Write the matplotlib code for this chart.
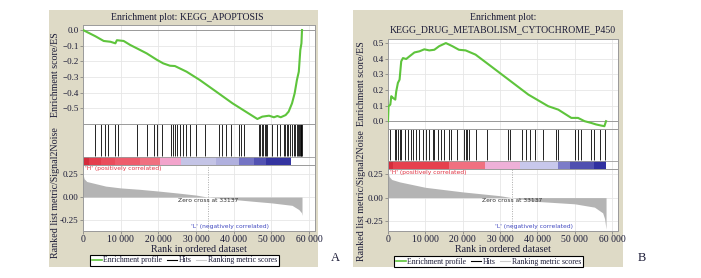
import numpy as np
import matplotlib
matplotlib.use("Agg")
import matplotlib.pyplot as plt
from matplotlib.patches import Rectangle
from matplotlib.lines import Line2D

# ---- data ----
# panel A: KEGG_APOPTOSIS
a_es_x = [0, 3300, 5500, 7300, 8600, 9000, 10800, 12500, 14300, 16900, 19600, 21300,
          23100, 24400, 27500, 31000, 35400, 39700, 43200, 46300, 47600, 49400, 50700,
          51600, 52500, 53800, 54600, 55500, 56200, 56800, 57300, 57700, 58000, 58150]
a_es_y = [0.0, -0.04, -0.07, -0.075, -0.085, -0.065, -0.07, -0.095, -0.117, -0.149, -0.19,
          -0.213, -0.228, -0.23, -0.266, -0.319, -0.394, -0.468, -0.521, -0.568, -0.553,
          -0.547, -0.557, -0.549, -0.557, -0.543, -0.521, -0.468, -0.404, -0.319, -0.266,
          -0.128, -0.085, 0.0]
a_hits = [3300, 4650, 5900, 6700, 8600, 9200, 14300, 16900, 18900, 19600, 21100, 23300,
          24000, 24500, 24900, 25700, 26600, 27450, 28300, 30100, 32300, 36200, 37000,
          38000, 39300, 41500, 41900, 42800, 46700, 47000, 47400, 47800, 48200, 48500,
          48800, 50200, 51500, 52400, 53300, 53700, 54100, 54500, 54900, 55400, 55900,
          56300, 56700, 57000, 57300, 57600, 57800, 58000, 58100]
a_metric_x = [0, 300, 1000, 3000, 6000, 10000, 15000, 20000, 25000, 30000, 33137,
              40000, 45000, 50000, 55500, 57300, 58000, 58150]
a_metric_y = [0.25, 0.2, 0.17, 0.15, 0.12, 0.1, 0.085, 0.066, 0.045, 0.022, 0.0,
              -0.026, -0.045, -0.063, -0.09, -0.136, -0.17, -0.2]
a_bar_edges = [0, 1600, 4650, 8600, 15200, 20400, 26100, 35400, 41500, 45400, 48500, 55100, 58150]
a_bar_colors = ["#d42c3c", "#e43c4c", "#ea4c5c", "#ee5c6c", "#f07080", "#f2a4cc",
                "#c4c4e6", "#b0b0de", "#7474c4", "#5252b2", "#3434a0"]

# panel B: KEGG_DRUG_METABOLISM_CYTOCHROME_P450
b_es_x = [0, 150, 620, 885, 1330, 1950, 2200, 2650, 3100, 3540, 4000, 4870, 5750, 7080,
          8400, 9730, 11060, 12400, 13700, 15500, 17250, 19000, 20800, 23450, 27000,
          32300, 37600, 42900, 45600, 49100, 50900, 52650, 54400, 55750, 57080, 57960, 58400]
b_es_y = [0.0, 0.096, 0.106, 0.16, 0.149, 0.138, 0.19, 0.245, 0.266, 0.383, 0.404, 0.398,
          0.415, 0.44, 0.447, 0.46, 0.453, 0.457, 0.48, 0.5, 0.48, 0.457, 0.453, 0.426,
          0.362, 0.266, 0.17, 0.096, 0.074, 0.021, 0.021, 0.0, -0.011, -0.021, -0.028,
          -0.032, 0.0]
b_hits = [100, 440, 1770, 2210, 2650, 3100, 3540, 4420, 5300, 6200, 6640, 7500, 8400,
          9300, 10200, 11060, 11950, 12400, 13270, 14160, 15040, 16370, 16800, 18580,
          20350, 20800, 21240, 21700, 23450, 26550, 32100, 32600, 36000, 37000, 37900,
          39400, 41600, 44900, 45600, 50200, 50900, 51800, 54400, 55300, 56700, 58150]
b_metric_x = [0, 300, 1000, 3100, 10000, 20000, 30000, 33137, 40000, 50000, 55300,
              57500, 58000, 58400]
b_metric_y = [0.28, 0.22, 0.19, 0.165, 0.108, 0.06, 0.02, 0.0, -0.04, -0.065, -0.1,
              -0.16, -0.22, -0.33]
b_bar_edges = [0, 1330, 16400, 26100, 35400, 45600, 48700, 55300, 58400]
b_bar_colors = ["#d42c3c", "#e6404e", "#f07080", "#eeb0d8", "#c8c8ec", "#7c7cc8",
                "#5050b0", "#3030a0"]

xticks = [0, 10000, 20000, 30000, 40000, 50000, 60000]
xticklabels = ["0", "10 000", "20 000", "30 000", "40 000", "50 000", "60 000"]
zero_cross = 33137

W, H = 701, 278
BEIGE = "#dedac6"
GREEN = "#5ec43c"
TXT = "#1c1c38"
SERIF = "Liberation Serif"
plt.rcParams["font.family"] = SERIF


def box(l, t, r, b):
    return [l / W, 1 - b / H, (r - l) / W, (b - t) / H]


def style(ax):
    for s in ax.spines.values():
        s.set_color("#9a9a9a")
        s.set_linewidth(0.7)
    ax.tick_params(length=2, width=0.5, color="#777777", labelsize=6.5,
                   labelcolor=TXT, pad=1.2)
    ax.tick_params(axis="x", labelsize=7)


def panel(fig, x0, es_box, hit_box, met_box, beige, title_lines, title_y,
          es_x, es_y, es_lim, es_ticks, hits, bar_edges, bar_colors,
          met_x, met_y, met_lim, legend_box, letter_xy, ylab_x, ylab2_y):
    fig.patches.append(Rectangle((beige[0] / W, 1 - beige[3] / H),
                                 (beige[2] - beige[0]) / W, (beige[3] - beige[1]) / H,
                                 transform=fig.transFigure, facecolor=BEIGE,
                                 edgecolor="none", zorder=-5))
    for txt, ty in zip(title_lines, title_y):
        fig.text(x0 / W, 1 - ty / H, txt, ha="center", va="center", fontsize=7, color=TXT)

    xmax = 61600
    # enrichment score
    ax = fig.add_axes(box(*es_box))
    style(ax)
    ax.plot(es_x, es_y, color=GREEN, lw=1.5, zorder=3)
    ax.axhline(0, color="#9a9a9a", lw=0.7, zorder=2)
    ax.set_xlim(0, xmax)
    ax.set_ylim(*es_lim)
    ax.set_yticks(es_ticks)
    ax.set_yticklabels([f"{v:.1f}".replace("-", "\u2212") for v in es_ticks])
    ax.set_xticks(xticks)
    ax.tick_params(axis="x", length=0, labelbottom=False)
    ax.grid(color="#e6e6e6", lw=0.6)
    ax.set_axisbelow(True)

    # hits + colour bar
    ah = fig.add_axes(box(*hit_box))
    style(ah)
    ah.set_xlim(0, xmax)
    ah.set_ylim(0, 1)
    n = hit_box[3] - hit_box[1]
    bar_top = 8.2 / n
    ah.vlines(hits, bar_top + 0.03, 1, color="black", lw=0.6)
    for i, c in enumerate(bar_colors):
        ah.axvspan(bar_edges[i], bar_edges[i + 1], 0, bar_top, color=c, lw=0)
    ah.axhline(bar_top, color="#9a9a9a", lw=0.6)
    ah.set_xticks(xticks)
    ah.grid(axis="x", color="#e6e6e6", lw=0.6)
    ah.set_axisbelow(True)
    ah.set_yticks([])
    ah.tick_params(axis="x", length=0, labelbottom=False)

    # ranked list metric
    am = fig.add_axes(box(*met_box))
    style(am)
    am.fill_between(met_x, met_y, 0, color="#b4b4b4", lw=0)
    am.axvline(zero_cross, color="#aaaaaa", lw=0.7, ls=(0, (1, 1.5)))
    am.set_xlim(0, xmax)
    am.set_ylim(*met_lim)
    am.set_yticks([0.25, 0.0, -0.25])
    am.set_yticklabels(["0.25", "0.00", "-0.25"])
    am.set_xticks(xticks)
    am.set_xticklabels(xticklabels)
    am.grid(color="#e6e6e6", lw=0.6)
    am.set_axisbelow(True)
    am.set_xlabel("Rank in ordered dataset", fontsize=7.2, color=TXT, labelpad=0.5)
    am.text(0.008, 0.985, "'H' (positively correlated)", transform=am.transAxes,
            ha="left", va="top", fontsize=4.3, color="#e03040", family="DejaVu Sans")
    am.text(zero_cross, -0.008, "Zero cross at 33137", ha="center", va="top",
            fontsize=4.3, color="#333333", family="DejaVu Sans")
    am.text(39000, met_lim[0] + 0.02, "'L' (negatively correlated)", ha="center",
            va="bottom", fontsize=4.3, color="#4048c0", family="DejaVu Sans")

    fig.text(ylab_x / W, 1 - (es_box[1] + es_box[3]) / 2 / H, "Enrichment score/ES",
             rotation=90, ha="center", va="center", fontsize=7.2, color=TXT)
    fig.text(ylab_x / W, 1 - ylab2_y / H, "Ranked list metric/Signal2Noise",
             rotation=90, ha="center", va="center", fontsize=7.2, color=TXT)

    handles = [Line2D([], [], color=GREEN, lw=1.2),
               Line2D([], [], color="black", lw=0.8),
               Line2D([], [], color="#cccccc", lw=0.8)]
    labels = ["Enrichment profile", "Hits", "Ranking metric scores"]
    cx = (legend_box[0] + legend_box[2]) / 2 / W
    cy = 1 - (legend_box[1] + legend_box[3]) / 2 / H
    leg = fig.legend(handles, labels, loc="center", bbox_to_anchor=(cx, cy), ncol=3,
                     fontsize=5.6, handlelength=1.3, handletextpad=0.2,
                     columnspacing=0.6, borderpad=0.25, fancybox=False,
                     edgecolor="black", framealpha=1, borderaxespad=0)
    leg.get_frame().set_linewidth(0.8)
    for t in leg.get_texts():
        t.set_color(TXT)
    fig.text(letter_xy[0] / W, 1 - letter_xy[1] / H, letter_xy[2], ha="center",
             va="center", fontsize=9, color=TXT)


fig = plt.figure(figsize=(W / 100, H / 100), dpi=100)

panel(fig, 187, (83, 25, 315, 124), (83, 124, 315, 165), (83, 165, 315, 231),
      (49, 10, 318, 267), ["Enrichment plot: KEGG_APOPTOSIS"], [17],
      a_es_x, a_es_y, (-0.60, 0.032), [0.0, -0.1, -0.2, -0.3, -0.4, -0.5],
      a_hits, a_bar_edges, a_bar_colors, a_metric_x, a_metric_y, (-0.37, 0.35),
      (92, 254, 277, 267), (335, 258, "A"), 56, 193)

panel(fig, 503, (388, 39, 618, 129), (388, 129, 618, 169), (388, 169, 618, 231),
      (353, 10, 623, 267), ["Enrichment plot:", "KEGG_DRUG_METABOLISM_CYTOCHROME_P450"],
      [18, 29.5], b_es_x, b_es_y, (-0.05, 0.526), [0.0, 0.1, 0.2, 0.3, 0.4, 0.5],
      b_hits, b_bar_edges, b_bar_colors, b_metric_x, b_metric_y, (-0.35, 0.30),
      (396, 256, 581, 267), (642, 258, "B"), 361, 196)

fig.savefig("out.png", dpi=100)
